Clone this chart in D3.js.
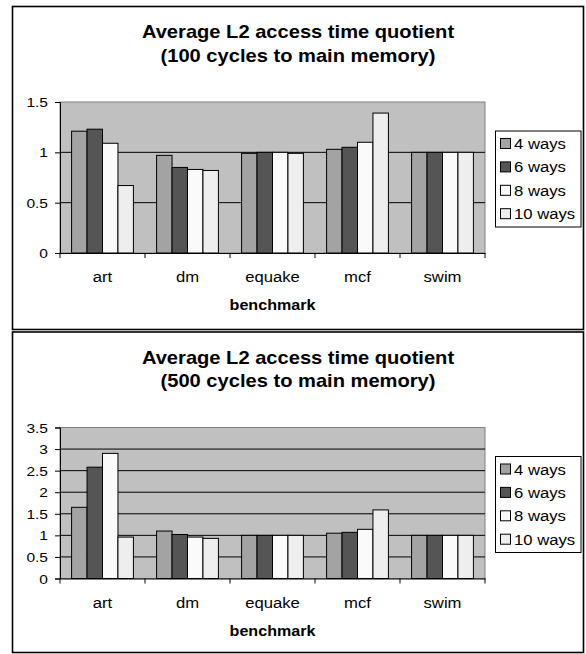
<!DOCTYPE html>
<html>
<head>
<meta charset="utf-8">
<script src="https://cdn.jsdelivr.net/npm/d3@7"></script>
<style>
  html, body { margin: 0; padding: 0; background: #fff; }
  svg { display: block; }
  text { font-family: "Liberation Sans", Arial, sans-serif; fill: #000; }
</style>
</head>
<body>
<svg id="chart" width="586" height="654"></svg>
<script>
// ---- data ----
const categories = ["art", "dm", "equake", "mcf", "swim"];
const seriesNames = ["4 ways", "6 ways", "8 ways", "10 ways"];
const seriesColors = ["#a3a3a3", "#555555", "#fafafa", "#eeeeee"];

// 100 cycles to main memory
const ways4_100  = [1.21, 0.97, 0.99, 1.03, 1.00];
const ways6_100  = [1.23, 0.85, 1.00, 1.05, 1.00];
const ways8_100  = [1.09, 0.83, 1.00, 1.10, 1.00];
const ways10_100 = [0.67, 0.82, 0.99, 1.39, 1.00];
const ticks_100  = [0, 0.5, 1, 1.5];

// 500 cycles to main memory
const ways4_500  = [1.65, 1.10, 1.00, 1.05, 1.00];
const ways6_500  = [2.58, 1.02, 1.00, 1.07, 1.00];
const ways8_500  = [2.90, 0.96, 1.00, 1.14, 1.00];
const ways10_500 = [0.96, 0.93, 1.00, 1.59, 1.00];
const ticks_500  = [0, 0.5, 1, 1.5, 2, 2.5, 3, 3.5];

const titleLine1 = "Average L2 access time quotient";
const titleLine2_100 = "(100 cycles to main memory)";
const titleLine2_500 = "(500 cycles to main memory)";
const xAxisTitle = "benchmark";

// ---- drawing ----
const svg = d3.select("#chart");
const SX = 1.15; // horizontal stretch of the original rendering

function stext(parent, x, y, str, size, anchor, weight) {
  const g = parent.append("g").attr("transform", `translate(${x},${y}) scale(${SX},1)`);
  g.append("text")
    .attr("text-anchor", anchor || "start")
    .attr("font-size", size)
    .attr("font-weight", weight || "normal")
    .text(str);
  return g;
}

function drawChart(oy, boxH, line2, seriesData, ticks) {
  const g = svg.append("g").attr("transform", `translate(0,${oy})`);

  // outer chart border
  g.append("rect").attr("x", 12.5).attr("y", 0.5).attr("width", 571).attr("height", boxH)
    .attr("fill", "#fff").attr("stroke", "#000").attr("stroke-width", 1.6);

  const plotL = 60, plotR = 485, plotT = 96, plotB = 247;

  const x0 = d3.scaleBand().domain(categories).range([plotL, plotR]).paddingInner(0).paddingOuter(0);
  const x1 = d3.scaleBand().domain(seriesNames).range([0, x0.bandwidth()]).paddingInner(0).paddingOuter(0.75);
  const y = d3.scaleLinear().domain([0, ticks[ticks.length - 1]]).range([plotB, plotT]);

  // plot area
  g.append("rect").attr("x", plotL).attr("y", plotT).attr("width", plotR - plotL).attr("height", plotB - plotT)
    .attr("fill", "#c0c0c0").attr("stroke", "#808080").attr("stroke-width", 1);

  // gridlines
  g.append("g").selectAll("line").data(ticks.filter(t => t > 0 && t < ticks[ticks.length - 1])).join("line")
    .attr("x1", plotL).attr("x2", plotR)
    .attr("y1", d => y(d)).attr("y2", d => y(d))
    .attr("stroke", "#000").attr("stroke-width", 1);

  // bars
  const groups = g.append("g").selectAll("g").data(categories).join("g")
    .attr("transform", d => `translate(${x0(d)},0)`);
  groups.selectAll("rect").data((c, ci) => seriesNames.map((s, si) => ({ s, si, v: seriesData[si][ci] })))
    .join("rect")
    .attr("x", d => x1(d.s))
    .attr("y", d => y(d.v))
    .attr("width", x1.bandwidth())
    .attr("height", d => plotB - y(d.v))
    .attr("fill", d => seriesColors[d.si])
    .attr("stroke", "#000").attr("stroke-width", 1);

  // y axis
  const yAxis = d3.axisLeft(y).tickValues(ticks).tickSize(5).tickPadding(4).tickFormat(d3.format("~g"));
  const ya = g.append("g").attr("transform", `translate(${plotL},0)`).call(yAxis);
  ya.select(".domain").attr("stroke", "#000");
  ya.selectAll(".tick line").attr("stroke", "#000");
  ya.selectAll(".tick text").remove();
  ticks.forEach(t => {
    stext(g, plotL - 12, y(t) + 5, d3.format("~g")(t), 13.5, "end");
  });

  // x axis
  const xAxis = d3.axisBottom(x0).tickSize(0).tickFormat("");
  const xa = g.append("g").attr("transform", `translate(0,${plotB})`).call(xAxis);
  xa.select(".domain").attr("stroke", "#000");
  const bounds = categories.map(c => x0(c)).concat([plotR]);
  g.append("g").selectAll("line").data(bounds).join("line")
    .attr("x1", d => d).attr("x2", d => d).attr("y1", plotB).attr("y2", plotB + 5)
    .attr("stroke", "#000");
  categories.forEach(c => {
    stext(g, x0(c) + x0.bandwidth() / 2, 276, c, 14.5, "middle");
  });
  stext(g, (plotL + plotR) / 2, 304, xAxisTitle, 14, "middle", "bold");

  // titles
  stext(g, 298, 32, titleLine1, 17.5, "middle", "bold");
  stext(g, 298, 55.5, line2, 17.5, "middle", "bold");

  // legend
  const lg = g.append("g");
  lg.append("rect").attr("x", 495.5).attr("y", 125).attr("width", 85.5).attr("height", 96)
    .attr("fill", "#fff").attr("stroke", "#000").attr("stroke-width", 1);
  seriesNames.forEach((s, i) => {
    const cy = 137.5 + i * 23.4;
    lg.append("rect").attr("x", 500.5).attr("y", cy - 5).attr("width", 10).attr("height", 10)
      .attr("fill", seriesColors[i]).attr("stroke", "#000").attr("stroke-width", 1);
    stext(lg, 514, cy + 5.5, s, 14.5, "start");
  });
}

drawChart(6, 323, titleLine2_100, [ways4_100, ways6_100, ways8_100, ways10_100], ticks_100);
drawChart(331.5, 320.5, titleLine2_500, [ways4_500, ways6_500, ways8_500, ways10_500], ticks_500);
</script>
</body>
</html>
